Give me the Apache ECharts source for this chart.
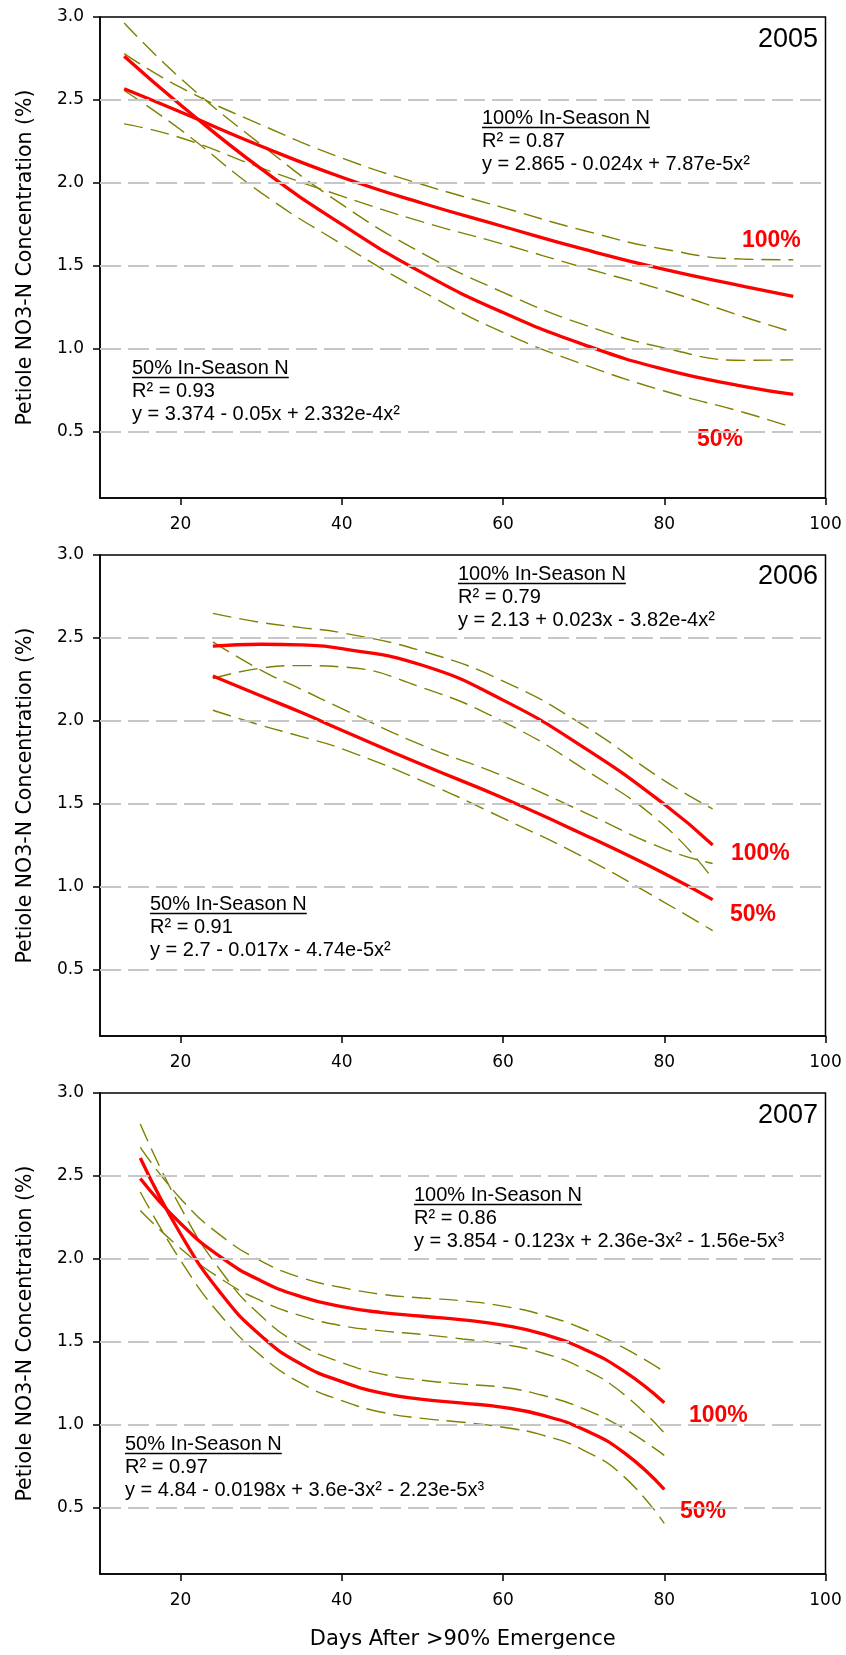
<!DOCTYPE html>
<html>
<head>
<meta charset="utf-8">
<script src="https://cdn.jsdelivr.net/npm/echarts@6/dist/echarts.min.js"></script>
<style>
  html, body { margin: 0; padding: 0; background: #fff; }
  #chart { width: 846px; height: 1655px; }
</style>
</head>
<body>
<div id="chart"></div>
<script>
// ticks
const xTicks = [20, 40, 60, 80, 100];
const yTicks = [0.5, 1.0, 1.5, 2.0, 2.5, 3.0];
const gridValues = [0.5, 1.0, 1.5, 2.0, 2.5];

// 2005
const days05 = [13, 20, 30, 40, 50, 60, 70, 80, 90, 96];
const fit100_05 = [2.567, 2.427, 2.221, 2.034, 1.877, 1.737, 1.60, 1.478, 1.375, 1.315];
const upper100_05 = [2.779, 2.575, 2.35, 2.15, 1.99, 1.851, 1.713, 1.60, 1.54, 1.536];
const lower100_05 = [2.356, 2.272, 2.09, 1.92, 1.765, 1.631, 1.489, 1.352, 1.19, 1.099];
const fit50_05 = [2.763, 2.47, 2.084, 1.75, 1.457, 1.218, 1.025, 0.875, 0.772, 0.725];
const upper50_05 = [2.964, 2.63, 2.23, 1.87, 1.575, 1.34, 1.145, 1.005, 0.93, 0.933];
const lower50_05 = [2.557, 2.32, 1.94, 1.63, 1.345, 1.098, 0.905, 0.745, 0.614, 0.524];

// 2006
const days06 = [24, 30, 35, 40, 50, 60, 70, 80, 86];
const fit100_06 = [2.45, 2.462, 2.458, 2.436, 2.335, 2.125, 1.84, 1.497, 1.252];
const upper100_06 = [2.648, 2.593, 2.562, 2.531, 2.42, 2.24, 1.973, 1.64, 1.47];
const lower100_06 = [2.255, 2.318, 2.333, 2.325, 2.2, 1.995, 1.711, 1.369, 1.047];
const fit50_06 = [2.271, 2.15, 2.05, 1.944, 1.735, 1.535, 1.315, 1.08, 0.922];
const upper50_06 = [2.476, 2.305, 2.19, 2.074, 1.852, 1.668, 1.45, 1.228, 1.14];
const lower50_06 = [2.064, 1.973, 1.905, 1.832, 1.637, 1.413, 1.178, 0.906, 0.735];

// 2007
const days07 = [15, 20, 25, 30, 35, 40, 45, 50, 55, 60, 65, 70, 75, 80];
const fit100_07 = [2.485, 2.213, 2.01, 1.867, 1.771, 1.712, 1.676, 1.654, 1.632, 1.6, 1.546, 1.457, 1.323, 1.133];
const upper100_07 = [2.672, 2.363, 2.14, 1.987, 1.886, 1.827, 1.786, 1.764, 1.747, 1.715, 1.661, 1.577, 1.463, 1.32];
const lower100_07 = [2.292, 2.063, 1.88, 1.747, 1.656, 1.597, 1.566, 1.544, 1.517, 1.485, 1.431, 1.337, 1.183, 0.95];
const fit50_07 = [2.608, 2.15, 1.792, 1.535, 1.364, 1.26, 1.19, 1.153, 1.13, 1.105, 1.056, 0.971, 0.832, 0.61];
const upper50_07 = [2.813, 2.31, 1.927, 1.655, 1.479, 1.375, 1.305, 1.268, 1.245, 1.225, 1.176, 1.096, 0.977, 0.815];
const lower50_07 = [2.403, 1.99, 1.657, 1.415, 1.249, 1.145, 1.075, 1.038, 1.015, 0.985, 0.936, 0.846, 0.687, 0.405];

// annotation text
const notes100_05 = ['100% In-Season N', 'R² = 0.87', 'y = 2.865 - 0.024x + 7.87e-5x²'];
const notes50_05 = ['50% In-Season N', 'R² = 0.93', 'y = 3.374 - 0.05x + 2.332e-4x²'];
const notes100_06 = ['100% In-Season N', 'R² = 0.79', 'y = 2.13 + 0.023x - 3.82e-4x²'];
const notes50_06 = ['50% In-Season N', 'R² = 0.91', 'y = 2.7 - 0.017x - 4.74e-5x²'];
const notes100_07 = ['100% In-Season N', 'R² = 0.86', 'y = 3.854 - 0.123x + 2.36e-3x² - 1.56e-5x³'];
const notes50_07 = ['50% In-Season N', 'R² = 0.97', 'y = 4.84 - 0.0198x + 3.6e-3x² - 2.23e-5x³'];

const FONT = 'DejaVu Sans';
const ARIAL = '"Liberation Sans", Arial';
const RED = '#ff0000';
const OLIVE = '#808000';

const panels = [
  { year: '2005', top: 17, days: days05, fit100: fit100_05, up100: upper100_05, lo100: lower100_05,
    fit50: fit50_05, up50: upper50_05, lo50: lower50_05,
    n100: { x: 482, b: 125, t: notes100_05 }, n50: { x: 132, b: 375, t: notes50_05 },
    l100: { x: 742, b: 248 }, l50: { x: 697, b: 447 }, yearBase: 48 },
  { year: '2006', top: 555, days: days06, fit100: fit100_06, up100: upper100_06, lo100: lower100_06,
    fit50: fit50_06, up50: upper50_06, lo50: lower50_06,
    n100: { x: 458, b: 581, t: notes100_06 }, n50: { x: 150, b: 911, t: notes50_06 },
    l100: { x: 731, b: 861 }, l50: { x: 730, b: 922 }, yearBase: 585 },
  { year: '2007', top: 1093, days: days07, fit100: fit100_07, up100: upper100_07, lo100: lower100_07,
    fit50: fit50_07, up50: upper50_07, lo50: lower50_07,
    n100: { x: 414, b: 1202, t: notes100_07 }, n50: { x: 125, b: 1451, t: notes50_07 },
    l100: { x: 689, b: 1423 }, l50: { x: 680, b: 1519 }, yearBase: 1124 }
];

const pairs = (xs, ys) => xs.map((x, i) => [x, ys[i]]);

const measure = (() => {
  const ctx = document.createElement('canvas').getContext('2d');
  return (text, font) => { ctx.font = font; return ctx.measureText(text).width; };
})();

const grids = [], xAxes = [], yAxes = [], series = [], graphics = [];

panels.forEach((p, i) => {
  grids.push({ left: 100, right: 20.5, top: p.top, height: 481, show: true,
    borderColor: '#000', borderWidth: 1.5, backgroundColor: 'transparent' });

  xAxes.push({
    gridIndex: i, type: 'value', min: 10, max: 100,
    name: i === 2 ? 'Days After >90% Emergence' : '',
    nameLocation: 'middle', nameGap: 55,
    nameTextStyle: { fontFamily: FONT, fontSize: 21, color: '#000' },
    axisLine: { lineStyle: { color: '#000', width: 1.5 } },
    axisTick: { customValues: xTicks, length: 7, lineStyle: { color: '#000', width: 1.5 } },
    axisLabel: { customValues: xTicks, fontFamily: FONT, fontSize: 17, color: '#000', margin: 18 },
    splitLine: { show: false }
  });

  yAxes.push({
    gridIndex: i, type: 'value', min: 0.1, max: 3.0,
    name: 'Petiole NO3-N Concentration (%)',
    nameLocation: 'middle', nameGap: 64,
    nameTextStyle: { fontFamily: FONT, fontSize: 20.5, color: '#000' },
    axisLine: { show: true, lineStyle: { color: '#000', width: 1.5 } },
    axisTick: { customValues: yTicks, length: 7, lineStyle: { color: '#000', width: 1.5 } },
    axisLabel: { customValues: yTicks, fontFamily: FONT, fontSize: 17, color: '#000', margin: 16,
      formatter: v => v.toFixed(1) },
    splitLine: { show: false }
  });

  // dashed reference lines
  series.push({
    type: 'line', xAxisIndex: i, yAxisIndex: i, data: [], z: 1, silent: true,
    markLine: {
      silent: true, symbol: ['none', 'none'], label: { show: false },
      lineStyle: { color: '#c6c6c6', width: 1.8, type: [21, 7] },
      data: gridValues.map(v => ({ yAxis: v }))
    }
  });

  [p.up100, p.lo100, p.up50, p.lo50].forEach(vals => {
    series.push({
      type: 'line', xAxisIndex: i, yAxisIndex: i, data: pairs(p.days, vals),
      smooth: true, showSymbol: false, z: 2,
      lineStyle: { color: OLIVE, width: 1.4, type: [19, 8] }
    });
  });

  [p.fit100, p.fit50].forEach(vals => {
    series.push({
      type: 'line', xAxisIndex: i, yAxisIndex: i, data: pairs(p.days, vals),
      smooth: true, showSymbol: false, z: 3,
      lineStyle: { color: RED, width: 3.3 }
    });
  });

  // year
  graphics.push({ type: 'text', x: 818, y: p.yearBase - 8.4,
    style: { text: p.year, font: '27px ' + ARIAL, fill: '#000', align: 'right', verticalAlign: 'middle' } });

  // regression notes
  [p.n100, p.n50].forEach(n => {
    const font = '20px ' + ARIAL;
    n.t.forEach((line, k) => {
      graphics.push({ type: 'text', x: n.x, y: n.b + k * 23 - 6.2,
        style: { text: line, font, fill: '#000', align: 'left', verticalAlign: 'middle' } });
    });
    const w = measure(n.t[0], font);
    graphics.push({ type: 'line', shape: { x1: n.x, y1: n.b + 2.5, x2: n.x + w, y2: n.b + 2.5 },
      style: { stroke: '#000', lineWidth: 1.5 } });
  });

  // series labels
  [[p.l100, '100%'], [p.l50, '50%']].forEach(([l, txt]) => {
    graphics.push({ type: 'text', x: l.x, y: l.b - 7.1,
      style: { text: txt, font: 'bold 23px ' + ARIAL, fill: RED, align: 'left', verticalAlign: 'middle' } });
  });
});

const chart = echarts.init(document.getElementById('chart'));
chart.setOption({
  animation: false,
  backgroundColor: '#fff',
  grid: grids,
  xAxis: xAxes,
  yAxis: yAxes,
  series: series,
  graphic: graphics
});
</script>
</body>
</html>
